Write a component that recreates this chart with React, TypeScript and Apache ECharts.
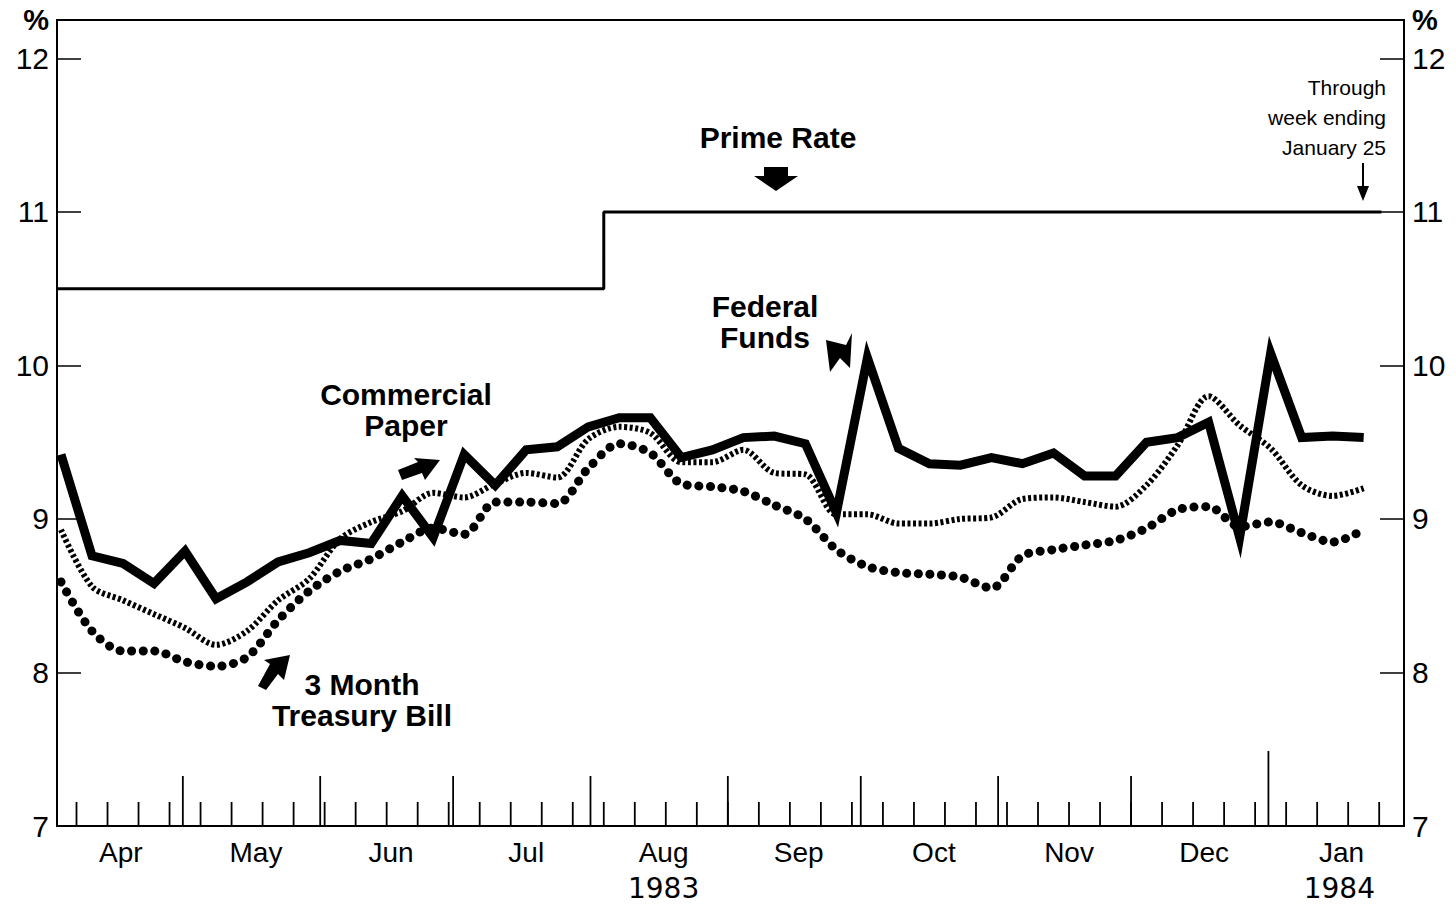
import { useEffect, useRef } from 'react';
import * as echarts from 'echarts';

// x axis: days since April 1, 1983 (weekly data, plotted at mid-week)
const X_MIN = 1.6;
const X_MAX = 305.6;
const FIRST_WEEK_MID = 2.5; // week ending Apr 6, 1983 (mid-week)
const WEEK_COUNT = 43; // through week ending Jan 25, 1984

const federalFunds = [
  9.42, 8.76, 8.71, 8.58, 8.79, 8.48, 8.59, 8.72, 8.78, 8.86, 8.84, 9.15, 8.88, 9.42, 9.22,
  9.45, 9.47, 9.6, 9.66, 9.66, 9.4, 9.45, 9.53, 9.54, 9.49, 9.04, 10.05, 9.46, 9.36, 9.35,
  9.4, 9.36, 9.43, 9.28, 9.28, 9.5, 9.53, 9.63, 8.88, 10.08, 9.53, 9.54, 9.53,
];
const commercialPaper = [
  8.93, 8.56, 8.47, 8.38, 8.29, 8.18, 8.27, 8.47, 8.61, 8.87, 8.98, 9.05, 9.17, 9.14, 9.23,
  9.3, 9.27, 9.52, 9.6, 9.56, 9.37, 9.37, 9.45, 9.3, 9.29, 9.03, 9.03, 8.97, 8.97, 9.0,
  9.01, 9.13, 9.14, 9.11, 9.08, 9.22, 9.48, 9.8, 9.61, 9.46, 9.22, 9.15, 9.2,
];
const treasuryBill = [
  8.59, 8.27, 8.14, 8.14, 8.07, 8.04, 8.1, 8.34, 8.53, 8.66, 8.74, 8.85, 8.94, 8.9, 9.11,
  9.11, 9.1, 9.33, 9.49, 9.43, 9.23, 9.21, 9.18, 9.09, 9.0, 8.8, 8.69, 8.65, 8.64, 8.62,
  8.55, 8.76, 8.8, 8.83, 8.86, 8.94, 9.06, 9.08, 8.95, 8.98, 8.91, 8.85, 8.93,
];
// prime rate: change points (days) and rates
const primeDays = [X_MIN, 125, 300.5];
const primeRates = [10.5, 11.0, 11.0];

// calendar ticks (days since Apr 1, 1983)
const monthStartDays = [30, 61, 91, 122, 153, 183, 214, 244];
const yearStartDays = [275];
const FIRST_WEEK_END = 6;

const monthLabels = ['Apr', 'May', 'Jun', 'Jul', 'Aug', 'Sep', 'Oct', 'Nov', 'Dec', 'Jan'];
const monthLabelDays = [16, 46.5, 77, 107.5, 138.5, 169, 199.5, 230, 260.5, 291.5];
const yearLabels = ['1983', '1984'];
const yearLabelDays = [138.5, 291];

const FONT = '"Liberation Sans", Arial, Helvetica, sans-serif';
const WIDE = '"DejaVu Sans", "Liberation Sans", sans-serif';

export default function App() {
  const ref = useRef<HTMLDivElement>(null);

  useEffect(() => {
    if (!ref.current) return;
    const chart = echarts.init(ref.current, undefined, { renderer: 'svg' });

    const weekX = (k: number) => FIRST_WEEK_MID + 7 * k;
    const toPairs = (arr: number[]) => arr.map((v, k) => [weekX(k), v]);

    const ticks: number[][] = [];
    for (let k = 0; k < WEEK_COUNT; k++) ticks.push([FIRST_WEEK_END + 7 * k, 7, 0]);
    monthStartDays.forEach((d) => ticks.push([d, 7, 1]));
    yearStartDays.forEach((d) => ticks.push([d, 7, 2]));
    const tickLen = [24, 50, 75];

    const yLabelFmt = (v: number) => {
      if (Math.abs(v - 12.25) < 1e-6) return '{p|%}';
      return Number.isInteger(v) ? String(v) : '';
    };

    const yAxisBase = {
      type: 'value',
      min: 7,
      max: 12.25,
      interval: 1,
      axisLine: { show: true, lineStyle: { color: '#000', width: 2 } },
      axisTick: { show: true, inside: true, length: 24, lineStyle: { color: '#000', width: 1.5 } },
      splitLine: { show: false },
      axisLabel: {
        show: true,
        showMaxLabel: true,
        showMinLabel: true,
        color: '#000',
        fontSize: 30,
        fontFamily: FONT,
        margin: 8,
        formatter: yLabelFmt,
        rich: { p: { fontSize: 29, fontFamily: FONT, color: '#000', fontWeight: 'bold' } },
      },
    };

    const boldText = (text: string, x: number, y: number, lh: number) => ({
      type: 'text',
      x,
      y,
      style: {
        text,
        fill: '#000',
        font: `bold 30px ${FONT}`,
        align: 'center',
        verticalAlign: 'middle',
        lineHeight: lh,
      },
    });

    chart.setOption({
      animation: false,
      backgroundColor: '#fff',
      grid: {
        left: 57,
        right: 52,
        top: 20,
        bottom: 81,
        show: true,
        borderColor: '#000',
        borderWidth: 2,
        containLabel: false,
      },
      xAxis: {
        type: 'value',
        min: X_MIN,
        max: X_MAX,
        axisLine: { show: true, lineStyle: { color: '#000', width: 2 } },
        axisTick: { show: false },
        axisLabel: { show: false },
        splitLine: { show: false },
      },
      yAxis: [
        { ...yAxisBase, position: 'left' },
        { ...yAxisBase, position: 'right' },
      ],
      series: [
        {
          name: 'Prime Rate',
          type: 'line',
          data: primeDays.map((d, i) => [d, primeRates[i]]),
          step: 'end',
          symbol: 'none',
          lineStyle: { color: '#000', width: 3 },
          silent: true,
        },
        {
          name: '3 Month Treasury Bill',
          type: 'line',
          data: toPairs(treasuryBill),
          smooth: 0.3,
          symbol: 'none',
          lineStyle: { color: '#000', width: 9, type: [0.1, 11.5], cap: 'round' },
          silent: true,
        },
        {
          name: 'Commercial Paper',
          type: 'line',
          data: toPairs(commercialPaper),
          smooth: 0.3,
          symbol: 'none',
          lineStyle: { color: '#000', width: 6, type: [3, 2.5], cap: 'butt' },
          silent: true,
        },
        {
          name: 'Federal Funds',
          type: 'line',
          data: toPairs(federalFunds),
          symbol: 'none',
          lineStyle: { color: '#000', width: 9, join: 'miter', miterLimit: 8 },
          silent: true,
        },
        {
          name: 'ticks',
          type: 'custom',
          silent: true,
          clip: false,
          data: ticks,
          encode: { x: 0, y: 1 },
          renderItem: (params: any, api: any) => {
            const p = api.coord([api.value(0), api.value(1)]);
            const h = tickLen[api.value(2)];
            return {
              type: 'line',
              shape: { x1: p[0], y1: p[1], x2: p[0], y2: p[1] - h },
              style: { stroke: '#000', lineWidth: 1.8 },
            };
          },
        },
        {
          name: 'months',
          type: 'custom',
          silent: true,
          clip: false,
          data: monthLabelDays.map((d) => [d, 7]),
          encode: { x: 0, y: 1 },
          renderItem: (params: any, api: any) => {
            const p = api.coord([api.value(0), api.value(1)]);
            return {
              type: 'text',
              x: p[0],
              y: p[1] + 26,
              style: {
                text: monthLabels[params.dataIndex],
                fill: '#000',
                fontSize: 28,
                fontFamily: FONT,
                align: 'center',
                verticalAlign: 'middle',
              },
            };
          },
        },
        {
          name: 'years',
          type: 'custom',
          silent: true,
          clip: false,
          data: yearLabelDays.map((d) => [d, 7]),
          encode: { x: 0, y: 1 },
          renderItem: (params: any, api: any) => {
            const p = api.coord([api.value(0), api.value(1)]);
            return {
              type: 'text',
              x: p[0],
              y: p[1] + 62,
              style: {
                text: yearLabels[params.dataIndex],
                fill: '#000',
                fontSize: 28,
                fontFamily: WIDE,
                align: 'center',
                verticalAlign: 'middle',
              },
            };
          },
        },
      ],
      graphic: [
        boldText('Prime Rate', 778, 137, 31),
        boldText('Federal\nFunds', 765, 322, 31),
        boldText('Commercial\nPaper', 406, 410, 31),
        boldText('3 Month\nTreasury Bill', 362, 700, 31),
        {
          type: 'text',
          x: 1386,
          y: 117,
          style: {
            text: 'Through\nweek ending\nJanuary 25',
            fill: '#000',
            font: `21px ${FONT}`,
            align: 'right',
            verticalAlign: 'middle',
            lineHeight: 30,
          },
        },
        // arrows
        {
          type: 'polygon',
          shape: { points: [[764, 167], [788, 167], [788, 176], [798, 176], [776, 191], [754, 176], [764, 176]] },
          style: { fill: '#000' },
        },
        {
          type: 'polygon',
          shape: { points: [[826, 340], [846, 345], [852, 333], [850, 368], [840, 358], [830, 372]] },
          style: { fill: '#000' },
        },
        {
          type: 'polygon',
          shape: { points: [[398, 470], [418, 462], [414, 458], [440, 460], [425, 480], [422, 473], [402, 480]] },
          style: { fill: '#000' },
        },
        {
          type: 'polygon',
          shape: { points: [[258, 686], [270, 664], [264, 660], [290, 655], [284, 680], [278, 674], [266, 690]] },
          style: { fill: '#000' },
        },
        {
          type: 'line',
          shape: { x1: 1363, y1: 163, x2: 1363, y2: 192 },
          style: { stroke: '#000', lineWidth: 2 },
        },
        {
          type: 'polygon',
          shape: { points: [[1357, 186], [1369, 186], [1363, 201]] },
          style: { fill: '#000' },
        },
      ],
    });

    return () => chart.dispose();
  }, []);

  return (
    <div
      ref={ref}
      style={{ position: 'fixed', left: 0, top: 0, width: 1456, height: 907, background: '#fff' }}
    />
  );
}
